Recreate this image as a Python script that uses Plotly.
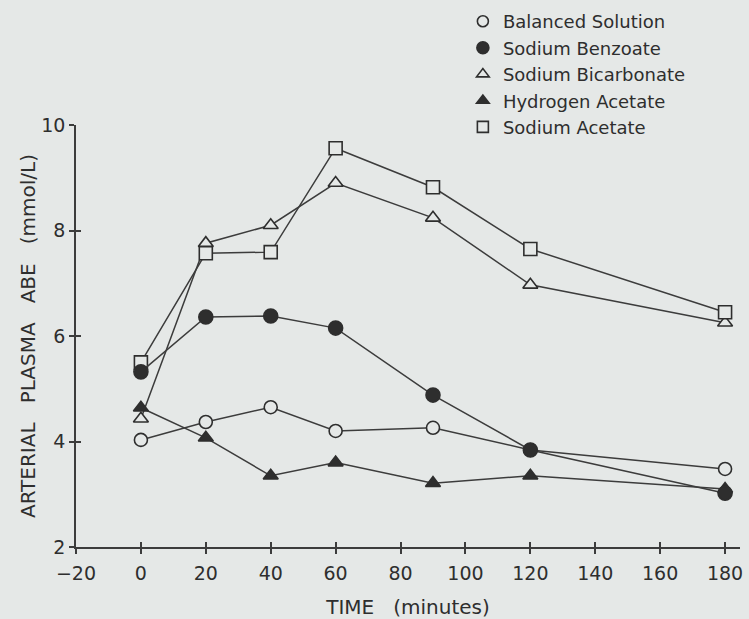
import plotly.graph_objects as go

# Sampling times (minutes)
time_min = [0, 20, 40, 60, 90, 120, 180]

# Arterial plasma ABE (mmol/L) per infusion
balanced_solution = [4.03, 4.37, 4.65, 4.20, 4.26, 3.84, 3.48]
sodium_benzoate = [5.32, 6.36, 6.38, 6.15, 4.88, 3.84, 3.02]
sodium_bicarbonate = [4.43, 7.76, 8.10, 8.90, 8.24, 6.97, 6.25]
hydrogen_acetate = [4.64, 4.07, 3.35, 3.60, 3.21, 3.35, 3.10]
sodium_acetate = [5.50, 7.57, 7.59, 9.56, 8.82, 7.65, 6.45]

legend_order = [
    "Balanced Solution",
    "Sodium Benzoate",
    "Sodium Bicarbonate",
    "Hydrogen Acetate",
    "Sodium Acetate",
]

x_ticks = [-20, 0, 20, 40, 60, 80, 100, 120, 140, 160, 180]
y_ticks = [2, 4, 6, 8, 10]

BG = "#e5e8e7"
INK = "#2e2e2e"
LINE = "#3c3c3c"
SANS = "DejaVu Sans, sans-serif"
GAP = "\u00a0" * 3

styles = {
    "Balanced Solution": dict(symbol="circle", size=13, color=BG),
    "Sodium Benzoate": dict(symbol="circle", size=14, color=INK),
    "Sodium Bicarbonate": dict(symbol="triangle-up", size=13, color=BG),
    "Hydrogen Acetate": dict(symbol="triangle-up", size=13, color=INK),
    "Sodium Acetate": dict(symbol="square", size=13, color=BG),
}

series = {
    "Balanced Solution": balanced_solution,
    "Sodium Benzoate": sodium_benzoate,
    "Sodium Bicarbonate": sodium_bicarbonate,
    "Hydrogen Acetate": hydrogen_acetate,
    "Sodium Acetate": sodium_acetate,
}

# drawing order: open markers first, filled ones on top
draw_order = [
    "Balanced Solution",
    "Sodium Bicarbonate",
    "Sodium Acetate",
    "Hydrogen Acetate",
    "Sodium Benzoate",
]

fig = go.Figure()

for name in draw_order:
    st = styles[name]
    fig.add_trace(go.Scatter(
        x=time_min, y=series[name], mode="lines+markers", name=name,
        showlegend=False,
        line=dict(color=LINE, width=1.5),
        marker=dict(symbol=st["symbol"], size=st["size"], color=st["color"],
                    line=dict(color=INK, width=1.6)),
    ))

# marker-only legend entries
for name in legend_order:
    st = styles[name]
    fig.add_trace(go.Scatter(
        x=[None], y=[None], mode="markers", name=name,
        marker=dict(symbol=st["symbol"], size=st["size"] - 2, color=st["color"],
                    line=dict(color=INK, width=1.6)),
    ))

tick_font = dict(family=SANS, size=19, color=INK)

axis_common = dict(
    showline=True, linecolor=LINE, linewidth=1.6, showgrid=False, zeroline=False,
    ticks="outside", ticklen=5, tickwidth=1.6, tickcolor=LINE,
    tickfont=tick_font, mirror=False, automargin=False,
)

fig.update_layout(
    width=749, height=619,
    paper_bgcolor=BG, plot_bgcolor=BG,
    margin=dict(l=76, r=9, t=125, b=72, autoexpand=False),
    xaxis=dict(axis_common, range=[-20, 184.6], tickvals=x_ticks,
               ticklabelstandoff=3,
               title=dict(text="TIME" + GAP + "(minutes)", standoff=17,
                          font=dict(family=SANS, size=20, color=INK))),
    yaxis=dict(axis_common, range=[2, 10], tickvals=y_ticks,
               ticklabelstandoff=0,
               title=dict(text="ARTERIAL" + GAP + "PLASMA" + GAP + "ABE" + GAP + "(mmol/L)",
                          standoff=0,
                          font=dict(family=SANS, size=20, color=INK))),
    xaxis2=dict(overlaying="x", anchor="y", range=[-20, 184.6], tickvals=x_ticks,
                ticks="inside", ticklen=5, tickwidth=1.6, tickcolor=LINE,
                showticklabels=False, showgrid=False, zeroline=False, showline=False),
    yaxis2=dict(overlaying="y", anchor="x", range=[2, 10], tickvals=y_ticks,
                ticks="inside", ticklen=5, tickwidth=1.6, tickcolor=LINE,
                showticklabels=False, showgrid=False, zeroline=False, showline=False),
    legend=dict(xref="container", yref="container", x=0.618, y=0.995,
                xanchor="left", yanchor="top",
                bgcolor="rgba(0,0,0,0)", borderwidth=0,
                font=dict(family=SANS, size=18, color=INK),
                tracegroupgap=0, itemwidth=30),
)

# invisible anchor trace so the inside-tick overlay axes render
fig.add_trace(go.Scatter(x=[None], y=[None], xaxis="x2", yaxis="y2",
                         showlegend=False, hoverinfo="skip"))

fig.write_html("out.html")
